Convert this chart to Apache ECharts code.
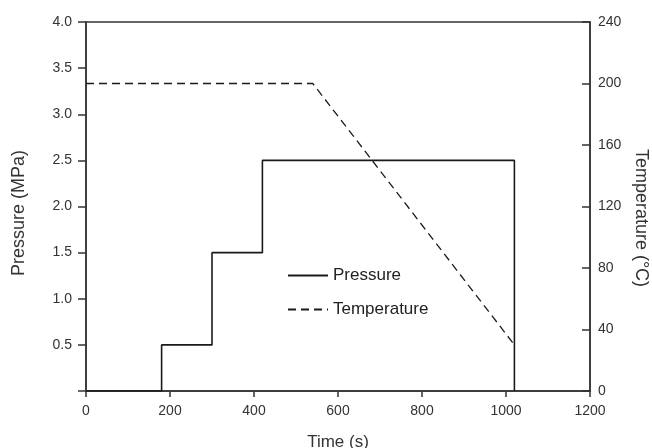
<!DOCTYPE html>
<html>
<head>
<meta charset="utf-8">
<script src="https://cdn.jsdelivr.net/npm/echarts@6/dist/echarts.min.js"></script>
<style>
html,body{margin:0;padding:0;background:#fff;}
#chartmain{width:652px;height:448px;}
</style>
</head>
<body>
<div id="chartmain"></div>
<script>
// data
var pressureTime = [0, 180, 300, 420, 1020];
var pressureValue = [0, 0.5, 1.5, 2.5, 0];
var tempTime = [0, 540, 1020];
var tempValue = [200, 200, 30];

var txt = '#333';
var font = 'Liberation Sans, Arial, sans-serif';

function pairs(xs, ys) {
    var out = [];
    for (var i = 0; i < xs.length; i++) out.push([xs[i], ys[i]]);
    return out;
}

var option = {
    animation: false,
    textStyle: {fontFamily: font},
    grid: {left: 86, right: 62, top: 22, bottom: 57, outerBoundsMode: 'none', containLabel: false,
        show: true, borderColor: '#333', borderWidth: 1.5},
    legend: {
        orient: 'vertical',
        left: 282, top: 262,
        itemWidth: 40, itemHeight: 12, itemGap: 17,
        itemStyle: {opacity: 0},
        textStyle: {color: '#222', fontSize: 17, fontFamily: font},
        data: ['Pressure', 'Temperature']
    },
    xAxis: {
        type: 'value', min: 0, max: 1200, interval: 200,
        name: 'Time (s)', nameLocation: 'middle', nameGap: 43,
        nameTextStyle: {color: txt, fontSize: 17},
        axisLine: {lineStyle: {color: '#333', width: 1.5}},
        axisTick: {length: 6, lineStyle: {color: '#333', width: 1.5}},
        axisLabel: {color: txt, fontSize: 14, margin: 13, formatter: function (v) { return String(v); }},
        splitLine: {show: false}
    },
    yAxis: [{
        type: 'value', min: 0, max: 4, interval: 0.5,
        name: 'Pressure (MPa)', nameLocation: 'middle', nameGap: 58, nameRotate: 90,
        nameTextStyle: {color: txt, fontSize: 18, padding: [0, 13, 0, 0]},
        axisLine: {show: true, lineStyle: {color: '#333', width: 1.5}},
        axisTick: {length: 8, lineStyle: {color: '#333', width: 1.5}},
        axisLabel: {color: txt, fontSize: 14, margin: 14,
            formatter: function (v) { return v === 0 ? '' : v.toFixed(1); }},
        splitLine: {show: false}
    }, {
        type: 'value', min: 0, max: 240, interval: 40, position: 'right',
        name: 'Temperature (°C)', nameLocation: 'middle', nameGap: 42, nameRotate: -90,
        nameTextStyle: {color: txt, fontSize: 18, padding: [0, 0, 0, 23]},
        axisLine: {show: true, lineStyle: {color: '#333', width: 1.5}},
        axisTick: {inside: true, length: 8, lineStyle: {color: '#333', width: 1.5}},
        axisLabel: {color: txt, fontSize: 14, margin: 8},
        splitLine: {show: false}
    }],
    series: [{
        name: 'Pressure', type: 'line', step: 'end', yAxisIndex: 0,
        symbol: 'none', data: pairs(pressureTime, pressureValue),
        lineStyle: {color: '#1a1a1a', width: 1.6},
        itemStyle: {color: '#1a1a1a'}
    }, {
        name: 'Temperature', type: 'line', yAxisIndex: 1,
        symbol: 'none', data: pairs(tempTime, tempValue),
        lineStyle: {color: '#1a1a1a', width: 1.3, type: [8, 5]},
        itemStyle: {color: '#1a1a1a'}
    }]
};

var myChart = echarts.init(document.getElementById('chartmain'));
myChart.setOption(option);
</script>
</body>
</html>
